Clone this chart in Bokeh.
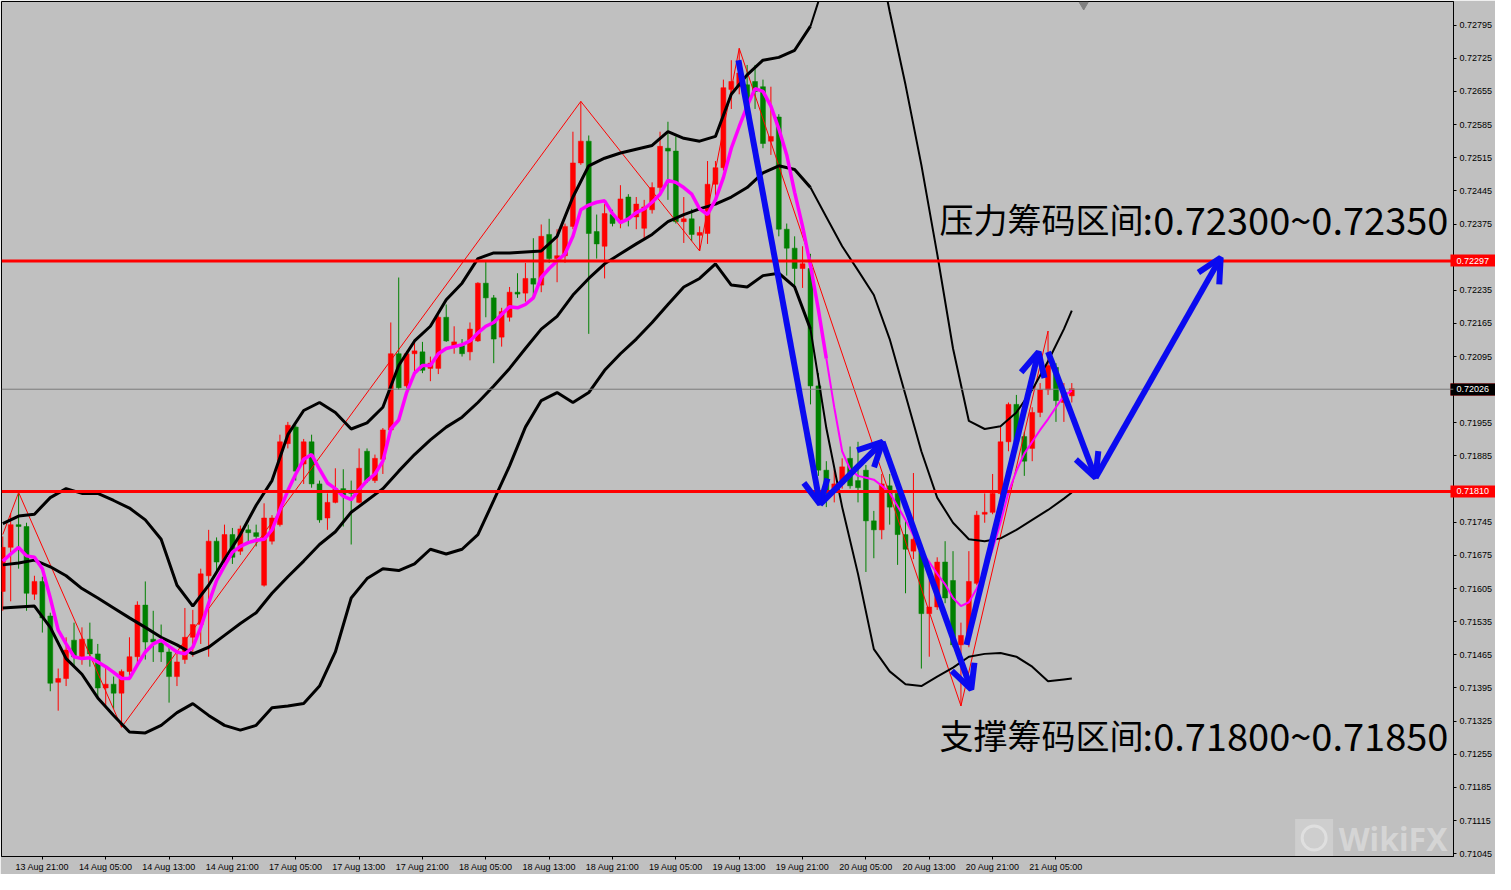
from bokeh.plotting import figure
from bokeh.models import (Range1d, FixedTicker, Span, Label, Arrow, OpenHead, ColumnDataSource,
                          LinearAxis)
from bokeh.embed import file_html
from bokeh.resources import INLINE
from bokeh.core.properties import value

# ---------------- data (H1 bars, bar 0 = 13 Aug 16:00) ----------------
bars = list(range(136))
opens = [0.71599, 0.71692, 0.71740, 0.71736, 0.71593, 0.71620, 0.71547, 0.71407, 0.71415, 0.71496,
         0.71461, 0.71498, 0.71467, 0.71395, 0.71403, 0.71384, 0.71430, 0.71461, 0.71570, 0.71498,
         0.71490, 0.71471, 0.71419, 0.71455, 0.71502, 0.71529, 0.71632, 0.71705, 0.71661, 0.71719,
         0.71684, 0.71729, 0.71723, 0.71612, 0.71705, 0.71740, 0.71911, 0.71946, 0.71868, 0.71915,
         0.71826, 0.71754, 0.71787, 0.71816, 0.71812, 0.71787, 0.71895, 0.71833, 0.71878, 0.71940,
         0.72101, 0.72033, 0.72101, 0.72105, 0.72070, 0.72070, 0.72178, 0.72118, 0.72118, 0.72105,
         0.72128, 0.72250, 0.72219, 0.72136, 0.72178, 0.72231, 0.72229, 0.72260, 0.72246, 0.72353,
         0.72302, 0.72308, 0.72370, 0.72504, 0.72550, 0.72359, 0.72328, 0.72395, 0.72384, 0.72432,
         0.72390, 0.72366, 0.72405, 0.72452, 0.72535, 0.72529, 0.72380, 0.72386, 0.72351, 0.72355,
         0.72459, 0.72494, 0.72659, 0.72665, 0.72669, 0.72676, 0.72665, 0.72550, 0.72601, 0.72364,
         0.72324, 0.72281, 0.72281, 0.72033, 0.71855, 0.71816, 0.71826, 0.71880, 0.71833, 0.71855,
         0.71748, 0.71729, 0.71822, 0.71806, 0.71719, 0.71684, 0.71684, 0.71552, 0.71566, 0.71661,
         0.71622, 0.71486, 0.71508, 0.71616, 0.71762, 0.71766, 0.71806, 0.71915, 0.71994, 0.71926,
         0.71901, 0.71977, 0.72025, 0.72072, 0.71998, 0.72012]
highs = [0.71715, 0.71764, 0.71808, 0.71744, 0.71632, 0.71630, 0.71554, 0.71436, 0.71502, 0.71533,
         0.71523, 0.71533, 0.71488, 0.71440, 0.71419, 0.71434, 0.71502, 0.71578, 0.71620, 0.71558,
         0.71529, 0.71481, 0.71467, 0.71564, 0.71560, 0.71647, 0.71729, 0.71713, 0.71740, 0.71733,
         0.71738, 0.71740, 0.71740, 0.71785, 0.71760, 0.71930, 0.71957, 0.71950, 0.71921, 0.71930,
         0.71833, 0.71806, 0.71859, 0.71857, 0.71833, 0.71901, 0.71901, 0.71888, 0.71944, 0.72167,
         0.72262, 0.72107, 0.72128, 0.72126, 0.72095, 0.72182, 0.72205, 0.72159, 0.72132, 0.72167,
         0.72252, 0.72297, 0.72225, 0.72198, 0.72242, 0.72271, 0.72293, 0.72345, 0.72374, 0.72386,
         0.72364, 0.72376, 0.72570, 0.72634, 0.72562, 0.72395, 0.72417, 0.72405, 0.72457, 0.72438,
         0.72432, 0.72426, 0.72463, 0.72570, 0.72591, 0.72560, 0.72432, 0.72407, 0.72370, 0.72508,
         0.72508, 0.72680, 0.72721, 0.72746, 0.72711, 0.72711, 0.72680, 0.72665, 0.72607, 0.72376,
         0.72349, 0.72328, 0.72312, 0.72060, 0.71874, 0.71857, 0.71880, 0.71905, 0.71915, 0.71866,
         0.71769, 0.71847, 0.71847, 0.71826, 0.71750, 0.71849, 0.71690, 0.71626, 0.71671, 0.71705,
         0.71684, 0.71533, 0.71684, 0.71769, 0.71806, 0.71847, 0.71946, 0.71998, 0.72014, 0.71936,
         0.71988, 0.72039, 0.72149, 0.72081, 0.72039, 0.72039]
lows = [0.71558, 0.71578, 0.71647, 0.71558, 0.71581, 0.71512, 0.71388, 0.71347, 0.71399, 0.71440,
        0.71444, 0.71440, 0.71378, 0.71357, 0.71351, 0.71312, 0.71413, 0.71440, 0.71455, 0.71450,
        0.71450, 0.71364, 0.71399, 0.71446, 0.71461, 0.71488, 0.71461, 0.71640, 0.71653, 0.71657,
        0.71676, 0.71702, 0.71694, 0.71609, 0.71698, 0.71736, 0.71901, 0.71833, 0.71826, 0.71818,
        0.71744, 0.71729, 0.71785, 0.71736, 0.71698, 0.71785, 0.71828, 0.71828, 0.71847, 0.71936,
        0.72025, 0.72029, 0.72054, 0.72060, 0.72043, 0.72058, 0.72126, 0.72101, 0.72095, 0.72087,
        0.72126, 0.72178, 0.72081, 0.72116, 0.72169, 0.72219, 0.72211, 0.72219, 0.72231, 0.72293,
        0.72252, 0.72293, 0.72364, 0.72500, 0.72143, 0.72302, 0.72260, 0.72370, 0.72366, 0.72370,
        0.72364, 0.72343, 0.72397, 0.72442, 0.72426, 0.72376, 0.72335, 0.72339, 0.72318, 0.72333,
        0.72426, 0.72488, 0.72618, 0.72649, 0.72618, 0.72618, 0.72535, 0.72521, 0.72349, 0.72266,
        0.72246, 0.72240, 0.71994, 0.71843, 0.71777, 0.71787, 0.71816, 0.71816, 0.71787, 0.71640,
        0.71669, 0.71709, 0.71740, 0.71655, 0.71595, 0.71667, 0.71436, 0.71461, 0.71560, 0.71574,
        0.71481, 0.71357, 0.71481, 0.71612, 0.71744, 0.71762, 0.71802, 0.71895, 0.71909, 0.71843,
        0.71874, 0.71967, 0.72014, 0.71957, 0.71957, 0.71998]
closes = [0.71692, 0.71740, 0.71736, 0.71595, 0.71620, 0.71543, 0.71405, 0.71415, 0.71475, 0.71461,
          0.71498, 0.71467, 0.71395, 0.71403, 0.71384, 0.71430, 0.71461, 0.71570, 0.71492, 0.71492,
          0.71471, 0.71419, 0.71450, 0.71502, 0.71529, 0.71636, 0.71705, 0.71661, 0.71719, 0.71671,
          0.71731, 0.71723, 0.71715, 0.71754, 0.71754, 0.71915, 0.71950, 0.71853, 0.71915, 0.71826,
          0.71750, 0.71787, 0.71816, 0.71802, 0.71806, 0.71859, 0.71833, 0.71880, 0.71940, 0.72101,
          0.72029, 0.72101, 0.72107, 0.72066, 0.72081, 0.72178, 0.72128, 0.72126, 0.72101, 0.72153,
          0.72250, 0.72219, 0.72132, 0.72190, 0.72231, 0.72227, 0.72260, 0.72248, 0.72349, 0.72302,
          0.72308, 0.72370, 0.72504, 0.72550, 0.72355, 0.72333, 0.72397, 0.72376, 0.72428, 0.72386,
          0.72417, 0.72411, 0.72452, 0.72539, 0.72529, 0.72380, 0.72386, 0.72353, 0.72357, 0.72459,
          0.72494, 0.72663, 0.72676, 0.72694, 0.72638, 0.72655, 0.72545, 0.72560, 0.72364, 0.72324,
          0.72281, 0.72291, 0.72033, 0.71855, 0.71808, 0.71826, 0.71862, 0.71822, 0.71818, 0.71748,
          0.71729, 0.71826, 0.71777, 0.71719, 0.71688, 0.71709, 0.71552, 0.71566, 0.71661, 0.71585,
          0.71486, 0.71506, 0.71620, 0.71760, 0.71766, 0.71806, 0.71915, 0.71994, 0.71915, 0.71874,
          0.71977, 0.72025, 0.72076, 0.72002, 0.72019, 0.72027]

# moving average (magenta), one value per bar
ma_line = [0.71663, 0.71678, 0.71692, 0.71674, 0.71671, 0.71647, 0.71585, 0.71517, 0.71488, 0.71461,
           0.71457, 0.71459, 0.71450, 0.71440, 0.71428, 0.71415, 0.71415, 0.71444, 0.71471, 0.71488,
           0.71496, 0.71483, 0.71471, 0.71467, 0.71481, 0.71523, 0.71574, 0.71622, 0.71653, 0.71682,
           0.71694, 0.71702, 0.71707, 0.71709, 0.71729, 0.71771, 0.71812, 0.71847, 0.71878, 0.71888,
           0.71857, 0.71828, 0.71816, 0.71800, 0.71793, 0.71814, 0.71833, 0.71847, 0.71874, 0.71942,
           0.71961, 0.72019, 0.72060, 0.72076, 0.72076, 0.72101, 0.72112, 0.72116, 0.72120, 0.72128,
           0.72145, 0.72159, 0.72167, 0.72184, 0.72200, 0.72198, 0.72205, 0.72219, 0.72262, 0.72281,
           0.72297, 0.72312, 0.72349, 0.72405, 0.72415, 0.72421, 0.72424, 0.72397, 0.72378, 0.72386,
           0.72399, 0.72407, 0.72421, 0.72438, 0.72467, 0.72463, 0.72452, 0.72438, 0.72407, 0.72395,
           0.72426, 0.72473, 0.72535, 0.72581, 0.72624, 0.72661, 0.72655, 0.72624, 0.72576, 0.72521,
           0.72442, 0.72370, 0.72287, 0.72194, 0.72091, 0.71988, 0.71895, 0.71857, 0.71843, 0.71839,
           0.71835, 0.71822, 0.71808, 0.71779, 0.71750, 0.71717, 0.71684, 0.71661, 0.71636, 0.71614,
           0.71585, 0.71568, 0.71576, 0.71605, 0.71640, 0.71688, 0.71744, 0.71808, 0.71853, 0.71890,
           0.71915, 0.71940, 0.71963, 0.71988, 0.72012, 0.72023]

# Bollinger bands, read every second bar
band_bars = list(range(0, 135, 2)) + [135]
bb_upper = [0.71742, 0.71758, 0.71762, 0.71797, 0.71816, 0.71806, 0.71806, 0.71791, 0.71775, 0.71750,
            0.71709, 0.71612, 0.71568, 0.71612, 0.71667, 0.71719, 0.71781, 0.71833, 0.71930, 0.71981,
            0.71998, 0.71977, 0.71942, 0.71955, 0.71988, 0.72076, 0.72128, 0.72159, 0.72215, 0.72250,
            0.72302, 0.72314, 0.72314, 0.72316, 0.72318, 0.72349, 0.72432, 0.72498, 0.72514, 0.72525,
            0.72533, 0.72541, 0.72570, 0.72556, 0.72550, 0.72560, 0.72649, 0.72690, 0.72721, 0.72727,
            0.72742, 0.72793, 0.72897, 0.72969, 0.73010, 0.72990, 0.72824, 0.72669, 0.72500, 0.72312,
            0.72112, 0.71959, 0.71942, 0.71948, 0.71977, 0.72025, 0.72085, 0.72153, 0.72192]
bb_middle = [0.71655, 0.71659, 0.71665, 0.71651, 0.71632, 0.71605, 0.71585, 0.71564, 0.71543, 0.71523,
             0.71502, 0.71486, 0.71467, 0.71481, 0.71506, 0.71531, 0.71554, 0.71595, 0.71630, 0.71663,
             0.71698, 0.71725, 0.71766, 0.71791, 0.71816, 0.71853, 0.71888, 0.71919, 0.71946, 0.71967,
             0.71998, 0.72033, 0.72070, 0.72112, 0.72153, 0.72180, 0.72225, 0.72260, 0.72291, 0.72312,
             0.72333, 0.72353, 0.72380, 0.72395, 0.72407, 0.72417, 0.72432, 0.72452, 0.72483, 0.72498,
             0.72490, 0.72452, 0.72390, 0.72328, 0.72277, 0.72225, 0.72132, 0.72014, 0.71895, 0.71797,
             0.71744, 0.71709, 0.71705, 0.71711, 0.71729, 0.71750, 0.71771, 0.71795, 0.71808]
bb_lower = [0.71564, 0.71566, 0.71568, 0.71523, 0.71457, 0.71424, 0.71374, 0.71337, 0.71302, 0.71300,
            0.71316, 0.71343, 0.71362, 0.71337, 0.71316, 0.71306, 0.71316, 0.71353, 0.71357, 0.71362,
            0.71399, 0.71471, 0.71585, 0.71626, 0.71647, 0.71643, 0.71657, 0.71688, 0.71678, 0.71688,
            0.71719, 0.71791, 0.71864, 0.71946, 0.72002, 0.72019, 0.71998, 0.72019, 0.72066, 0.72101,
            0.72132, 0.72167, 0.72205, 0.72242, 0.72260, 0.72291, 0.72246, 0.72242, 0.72266, 0.72271,
            0.72242, 0.72153, 0.71944, 0.71777, 0.71636, 0.71477, 0.71430, 0.71403, 0.71399, 0.71419,
            0.71438, 0.71461, 0.71467, 0.71469, 0.71461, 0.71440, 0.71409, 0.71413, 0.71415]

# ZigZag vertices
zigzag_bars = [0, 2, 15, 73, 88, 93, 121, 132]
zigzag_prices = [0.71719, 0.71808, 0.71312, 0.72634, 0.72318, 0.72746, 0.71357, 0.72149]

# hand-drawn blue arrows (bar, price)
arrow_x0 = [92.9, 103.2, 111.1, 121.7, 132.0, 138.0]
arrow_y0 = [0.72721, 0.71783, 0.71915, 0.71486, 0.72105, 0.71839]
arrow_x1 = [103.2, 111.1, 122.3, 130.8, 138.0, 153.8]
arrow_y1 = [0.71783, 0.71915, 0.71392, 0.72105, 0.71839, 0.72304]

# levels and price tags
level_prices = [0.72297, 0.71810]
bid_price = 0.72026
tag_prices = [0.72297, 0.72026, 0.71810]
tag_labels = ["0.72297", "0.72026", "0.71810"]

notes_cjk = ["压力筹码区间", "支撑筹码区间"]
notes_num = [":0.72300~0.72350", ":0.71800~0.71850"]
note_bars = [118.3, 118.3]
note_prices = [0.72386, 0.71297]

x_tick_bars = [5, 13, 21, 29, 37, 45, 53, 61, 69, 77, 85, 93, 101, 109, 117, 125, 133]
x_tick_labels = ["13 Aug 21:00", "14 Aug 05:00", "14 Aug 13:00", "14 Aug 21:00", "17 Aug 05:00",
                 "17 Aug 13:00", "17 Aug 21:00", "18 Aug 05:00", "18 Aug 13:00", "18 Aug 21:00",
                 "19 Aug 05:00", "19 Aug 13:00", "19 Aug 21:00", "20 Aug 05:00", "20 Aug 13:00",
                 "20 Aug 21:00", "21 Aug 05:00"]
y_tick_values = [0.72795, 0.72725, 0.72655, 0.72585, 0.72515, 0.72445, 0.72375, 0.72305, 0.72235,
                 0.72165, 0.72095, 0.72025, 0.71955, 0.71885, 0.71815, 0.71745, 0.71675, 0.71605,
                 0.71535, 0.71465, 0.71395, 0.71325, 0.71255, 0.71185, 0.71115, 0.71045]
y_tick_labels = ["0.72795", "0.72725", "0.72655", "0.72585", "0.72515", "0.72445", "0.72375", "",
                 "0.72235", "0.72165", "0.72095", "", "0.71955", "0.71885", "", "0.71745", "0.71675",
                 "0.71605", "0.71535", "0.71465", "0.71395", "0.71325", "0.71255", "0.71185",
                 "0.71115", "0.71045"]

X_START, X_END = -0.16, 183.2
Y_LOW, Y_HIGH = 0.71039, 0.72845

BG = "#C0C0C0"
UP = "#FF0000"
DOWN = "#008000"
BLUE = "#0A0AF0"

p = figure(width=1495, height=874, output_backend="svg", toolbar_location=None,
           x_range=Range1d(X_START, X_END), y_range=Range1d(Y_LOW, Y_HIGH),
           y_axis_location="right", min_border_left=1, min_border_top=1,
           min_border_right=0, min_border_bottom=0)
p.background_fill_color = BG
p.border_fill_color = BG
p.outline_line_color = "black"
p.outline_line_width = 1
p.xgrid.visible = False
p.ygrid.visible = False

colors = [UP if c >= o else DOWN for o, c in zip(opens, closes)]
src = ColumnDataSource(dict(
    x=bars, o=opens, h=highs, l=lows, c=closes, color=colors,
    top=[max(o, c) for o, c in zip(opens, closes)],
    bottom=[min(o, c) for o, c in zip(opens, closes)],
))
p.segment(x0="x", y0="l", x1="x", y1="h", source=src, line_color="color", line_width=1)
p.vbar(x="x", top="top", bottom="bottom", width=0.62, source=src,
       fill_color="color", line_color="color", line_width=0.5)

# zigzag
p.line(zigzag_bars, zigzag_prices, line_color="#FF0000", line_width=1)

# Bollinger bands
split = band_bars.index(102)
for band in (bb_upper, bb_middle, bb_lower):
    p.line(band_bars[:split + 1], band[:split + 1], line_color="black", line_width=3)
    p.line(band_bars[split:], band[split:], line_color="black", line_width=2)

# moving average
p.line(bars[:105], ma_line[:105], line_color="#FF00FF", line_width=3.5)
p.line(bars[104:], ma_line[104:], line_color="#FF00FF", line_width=2)

# levels
for lv in level_prices:
    p.add_layout(Span(location=lv, dimension="width", line_color="#FF0000", line_width=3))
p.add_layout(Span(location=bid_price, dimension="width", line_color="#7A7A7A", line_width=1))

# blue arrows
for x0, y0, x1, y1 in zip(arrow_x0, arrow_y0, arrow_x1, arrow_y1):
    p.add_layout(Arrow(end=OpenHead(size=24, line_width=6, line_color=BLUE),
                       x_start=x0, y_start=y0, x_end=x1, y_end=y1,
                       line_color=BLUE, line_width=6))

# annotation texts
p.text(x=note_bars, y=note_prices, text=notes_cjk, text_font=value("Noto Sans CJK SC"),
       text_font_size="34px", text_color="black", text_baseline="middle", text_align="left")
p.text(x=note_bars, y=note_prices, text=notes_num, text_font=value("Noto Sans CJK SC"),
       text_font_size="38px", text_color="black", text_baseline="middle", text_align="left",
       x_offset=203)

# chart-shift marker
p.scatter([136.5], [Y_HIGH - 0.00007], marker="inverted_triangle", size=9,
          fill_color="#808080", line_color="#808080")

# watermark
p.scatter([165.6], [0.71078], marker="square", size=38, fill_color="white", fill_alpha=0.22,
          line_color=None)
p.scatter([165.6], [0.71078], marker="circle", size=24, fill_color=None, line_color="white",
          line_alpha=0.35, line_width=3)
p.add_layout(Label(x=168.7, y=0.71078, text="WikiFX", text_color="white", text_alpha=0.35,
                   text_font="Noto Sans", text_font_style="bold", text_font_size="32px",
                   text_baseline="middle", text_align="left"))

# ---------------- axes ----------------
xa = p.xaxis[0]
xa.ticker = FixedTicker(ticks=x_tick_bars)
xa.major_label_overrides = dict(zip(x_tick_bars, x_tick_labels))
xa.major_label_text_align = "left"
xa.major_label_standoff = 2

ya = p.yaxis[0]
ya.ticker = FixedTicker(ticks=y_tick_values)
ya.major_label_overrides = dict(zip(y_tick_values, y_tick_labels))
ya.major_label_standoff = 3

for ax in (xa, ya):
    ax.axis_line_color = "black"
    ax.major_tick_line_color = "black"
    ax.major_tick_out = 3
    ax.major_tick_in = 0
    ax.minor_tick_line_color = None
    ax.major_label_text_font = "Liberation Sans"
    ax.major_label_text_font_size = "9px"
    ax.major_label_text_line_height = 1.0
    ax.major_label_text_color = "black"

# price-tag scale, stacked just outside the price axis: thick ticks drawn back
# toward the frame form the tag boxes (red major ticks, black minor tick for the
# bid, drawn afterwards), and white labels are pulled back over them.
tags = LinearAxis(ticker=FixedTicker(ticks=tag_prices, minor_ticks=[bid_price]))
tags.major_label_overrides = dict(zip(tag_prices, tag_labels))
tags.axis_line_color = None
tags.major_tick_out = 0
tags.major_tick_in = 45
tags.major_tick_line_width = 12
tags.major_tick_line_color = "#FF0000"
tags.major_tick_line_cap = "butt"
tags.minor_tick_out = 0
tags.minor_tick_in = 45
tags.minor_tick_line_width = 12
tags.minor_tick_line_color = "black"
tags.minor_tick_line_cap = "butt"
tags.major_label_standoff = -39
tags.major_label_text_color = "white"
tags.major_label_text_font = "Liberation Sans"
tags.major_label_text_font_size = "9px"
tags.major_label_text_line_height = 1.0
p.add_layout(tags, "right")

open("out.html", "w").write(file_html(p, INLINE))
